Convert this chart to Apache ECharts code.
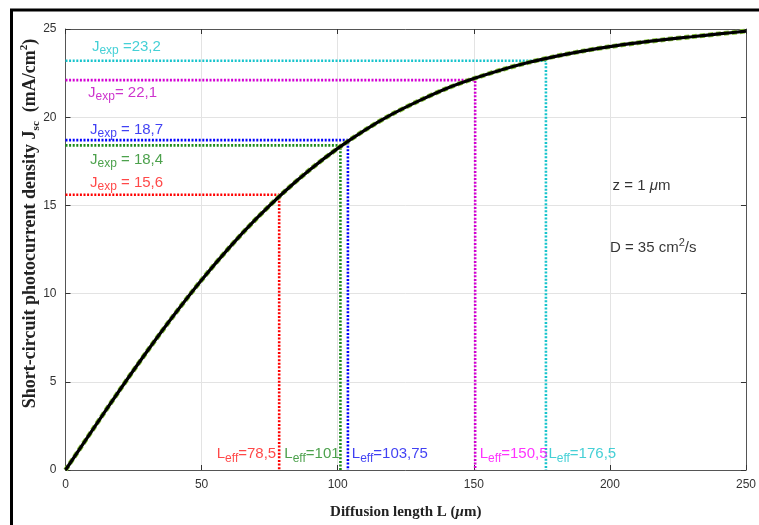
<!DOCTYPE html>
<html>
<head>
<meta charset="utf-8">
<script src="https://cdn.jsdelivr.net/npm/echarts@6/dist/echarts.min.js"></script>
<style>
html,body{margin:0;padding:0;background:#fff;}
#c{width:759px;height:525px;}
</style>
</head>
<body>
<div id="c"></div>
<script>
// ---- data ----
const diffusionLength = [0,10,20,30,40,50,60,70,80,90,100,110,120,130,140,150,160,170,180,190,200,210,220,230,240,250];
const jsc = [0,2.29,4.55,6.73,8.81,10.77,12.58,14.23,15.72,17.05,18.23,19.27,20.17,20.94,21.63,22.19,22.68,23.10,23.45,23.75,24.00,24.21,24.40,24.56,24.72,24.88];

const refNames = ['red','green','blue','magenta','cyan'];
const refLeff = [78.5, 101, 103.75, 150.5, 176.5];
const refJexp = [15.6, 18.4, 18.7, 22.1, 23.2];
const refLeffText = ['78,5','101','103,75','150,5','176,5'];
const refJexpText = [' = 15,6',' = 18,4',' = 18,7','= 22,1',' =23,2'];

const xTicks = [0,50,100,150,200,250];
const yTicks = [0,5,10,15,20,25];

// ---- styling (not data) ----
const lineColors = {red:'#ff0000', green:'#1a8a1a', blue:'#0000ff', magenta:'#d400d4', cyan:'#17c4cc'};
const jTextColors = {red:'#ff1a1a', green:'#1f8a1f', blue:'#1010f0', magenta:'#c000c0', cyan:'#17c4cc'};
const lTextColors = {red:'#ff1a1a', green:'#1f8a1f', blue:'#1010f0', magenta:'#ff00ff', cyan:'#17c4cc'};
// label anchor positions (data units)
const jLabelPos = {red:[9,16.3], green:[9,17.6], blue:[9,19.3], magenta:[8.3,21.4], cyan:[9.7,24.0]};
const lLabelPos = {red:[77.4,0.9,'right'], green:[80.4,0.9,'left'], blue:[105.2,0.9,'left'], magenta:[152.2,0.9,'left'], cyan:[177.4,0.9,'left']};

const chart = echarts.init(document.getElementById('c'), null, {renderer:'canvas'});
const SANS = '"Liberation Sans", Arial, Helvetica, sans-serif';
const SERIF = '"Liberation Serif", "Times New Roman", serif';

const curveData = diffusionLength.map((l,i)=>[l, jsc[i]]);

const series = [];
// reference dotted lines
refNames.forEach((n,i)=>{
  series.push({
    type:'line', silent:true, symbol:'none', z:2,
    data:[[0,refJexp[i]],[refLeff[i],refJexp[i]],[refLeff[i],0]],
    lineStyle:{color:lineColors[n], width:2.6, type:[2,1.6]}
  });
});
// curve: green dashed underlay + black line
series.push({type:'line', silent:true, symbol:'none', z:5, smooth:0.3, data:curveData,
  lineStyle:{color:'#8cc63f', width:4.8, type:[5,3]}});
series.push({type:'line', silent:true, symbol:'none', z:6, smooth:0.3, data:curveData,
  lineStyle:{color:'#000', width:3.2}});

// annotation labels
const sub = (c)=>({fontSize:12, color:c, fontFamily:SANS, padding:[9,0,0,0]});
const annData = [];
refNames.forEach((n,i)=>{
  annData.push({value:jLabelPos[n], label:{
    formatter:'{m|J}{s|exp}{m|'+refJexpText[i]+'}', align:'left',
    rich:{m:{fontSize:15, color:jTextColors[n], fontFamily:SANS}, s:sub(jTextColors[n])}
  }});
  annData.push({value:[lLabelPos[n][0], lLabelPos[n][1]], label:{
    formatter:'{m|L}{s|eff}{m|='+refLeffText[i]+'}', align:lLabelPos[n][2],
    rich:{m:{fontSize:15, color:lTextColors[n], fontFamily:SANS}, s:sub(lTextColors[n])}
  }});
});
annData.push({value:[201,16.1], label:{formatter:'{m|z = 1 }{i|μ}{m|m}', align:'left',
  rich:{m:{fontSize:15,color:'#000',fontFamily:SANS}, i:{fontSize:15,color:'#000',fontFamily:SANS,fontStyle:'italic'}}}});
annData.push({value:[200,12.6], label:{formatter:'{m|D = 35 cm}{p|2}{m|/s}', align:'left',
  rich:{m:{fontSize:15,color:'#000',fontFamily:SANS}, p:{fontSize:11,color:'#000',fontFamily:SANS,padding:[0,0,9,0]}}}});
series.push({type:'scatter', silent:true, symbolSize:0, z:10, data:annData,
  label:{show:true, position:'inside', verticalAlign:'middle'}});

const axisLineStyle = {color:'#555', width:1};
chart.setOption({
  animation:false,
  backgroundColor:'#fff',
  textStyle:{fontFamily:SANS},
  grid:{left:65.5, right:12, top:29, bottom:54, containLabel:false},
  graphic:[{type:'rect', silent:true, z:100, shape:{x:11.5,y:10,width:800,height:600},
    style:{fill:null, stroke:'#000', lineWidth:3}}],
  xAxis:[{
    type:'value', min:xTicks[0], max:xTicks[xTicks.length-1], interval:xTicks[1]-xTicks[0],
    axisLine:{show:true, onZero:false, lineStyle:axisLineStyle},
    axisTick:{show:true, inside:true, length:5, lineStyle:{color:'#333'}},
    axisLabel:{color:'#333', fontSize:12, margin:9, fontFamily:SANS},
    splitLine:{show:true, lineStyle:{color:'#e3e3e3', width:1}},
    name:'{b|Diffusion length L (}{bi|μ}{b|m)}', nameLocation:'middle', nameGap:35,
    nameTextStyle:{rich:{b:{fontSize:15, fontWeight:'bold', fontFamily:SERIF, color:'#222'},
                         bi:{fontSize:15, fontWeight:'bold', fontStyle:'italic', fontFamily:SERIF, color:'#222'}}}
  },{
    type:'value', position:'top', min:xTicks[0], max:xTicks[xTicks.length-1], interval:xTicks[1]-xTicks[0],
    axisLine:{show:true, onZero:false, lineStyle:axisLineStyle},
    axisTick:{show:true, inside:true, length:5, lineStyle:{color:'#333'}},
    axisLabel:{show:false}, splitLine:{show:false}
  }],
  yAxis:[{
    type:'value', min:yTicks[0], max:yTicks[yTicks.length-1], interval:yTicks[1]-yTicks[0],
    axisLine:{show:true, onZero:false, lineStyle:axisLineStyle},
    axisTick:{show:true, inside:true, length:5, lineStyle:{color:'#333'}},
    axisLabel:{color:'#333', fontSize:12, margin:9, fontFamily:SANS},
    splitLine:{show:true, lineStyle:{color:'#e3e3e3', width:1}},
    name:'{b|Short-circuit photocurrent density J}{s|sc}{b|  (mA/cm}{p|2}{b|)}', nameLocation:'middle',
    nameGap:24, nameMoveOverlap:false,
    nameTextStyle:{padding:[0,0,0,52], rich:{
      b:{fontSize:18, fontWeight:'bold', fontFamily:SERIF, color:'#222'},
      s:{fontSize:11, fontWeight:'bold', fontFamily:SERIF, color:'#222', padding:[12,0,0,0]},
      p:{fontSize:11, fontWeight:'bold', fontFamily:SERIF, color:'#222', padding:[0,0,11,0]}
    }}
  },{
    type:'value', position:'right', min:yTicks[0], max:yTicks[yTicks.length-1], interval:yTicks[1]-yTicks[0],
    axisLine:{show:true, onZero:false, lineStyle:axisLineStyle},
    axisTick:{show:true, inside:true, length:5, lineStyle:{color:'#333'}},
    axisLabel:{show:false}, splitLine:{show:false}
  }],
  series:series
});
</script>
</body>
</html>
